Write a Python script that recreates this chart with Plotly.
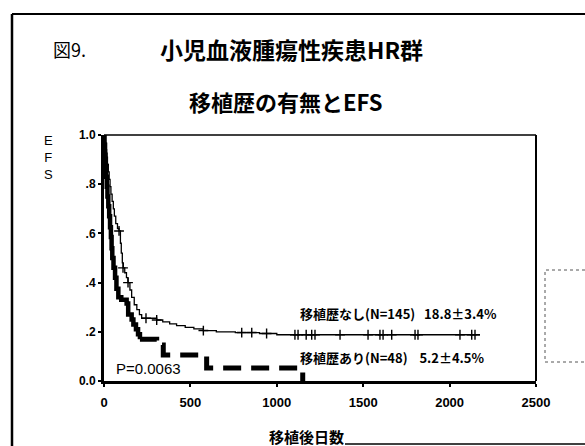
import plotly.graph_objects as go

# ---- data ----
# 移植歴なし (N=145): Kaplan-Meier step points
no_tx_days = [0, 5, 10, 15, 20, 25, 30, 35, 40, 47, 54, 60, 68, 78, 87, 95, 100, 106, 112, 120,
              130, 139, 150, 160, 175, 190, 205, 218, 305, 340, 380, 420, 470, 520, 575, 650,
              760, 900, 1000, 2176]
no_tx_efs = [1.0, 0.97, 0.94, 0.91, 0.88, 0.85, 0.82, 0.79, 0.76, 0.73, 0.70, 0.67, 0.64, 0.62,
             0.61, 0.56, 0.52, 0.48, 0.46, 0.44, 0.42, 0.40, 0.37, 0.34, 0.31, 0.29, 0.27, 0.255,
             0.248, 0.24, 0.232, 0.225, 0.218, 0.212, 0.205, 0.200, 0.197, 0.193, 0.188, 0.188]
no_tx_cens_days = [87, 110, 139, 243, 305, 575, 797, 855, 941, 1105, 1123, 1170, 1202, 1221,
                   1366, 1528, 1597, 1615, 1665, 1800, 1817, 2060, 2128, 2147]
no_tx_cens_efs = [0.61, 0.46, 0.40, 0.255, 0.248, 0.205, 0.197, 0.197, 0.193, 0.188, 0.188,
                  0.188, 0.188, 0.188, 0.188, 0.188, 0.188, 0.188, 0.188, 0.188, 0.188, 0.188,
                  0.188, 0.188]

# 移植歴あり (N=48)
tx_days = [0, 3, 6, 9, 12, 16, 20, 25, 30, 35, 40, 44, 48, 55, 64, 72, 83, 100, 131, 140, 160,
           170, 185, 197, 208, 305, 343, 594, 1150]
tx_efs = [1.0, 0.96, 0.92, 0.875, 0.83, 0.79, 0.75, 0.71, 0.67, 0.625, 0.585, 0.54, 0.50, 0.46,
          0.42, 0.375, 0.34, 0.33, 0.315, 0.27, 0.25, 0.23, 0.21, 0.19, 0.17, 0.146, 0.106,
          0.053, 0.0]
tx_solid_until = 24  # index of point where the drawn line switches to dashed

x_ticks = [0, 500, 1000, 1500, 2000, 2500]
x_ticklabels = ["0", "500", "1000", "1500", "2000", "2500"]
y_ticks = [0.0, 0.2, 0.4, 0.6, 0.8, 1.0]
y_ticklabels = ["0.0", ".2", ".4", ".6", ".8", "1.0"]
y_title_letters = ["E", "F", "S"]

JP = "Noto Sans CJK JP"
LAT = "Liberation Sans"

fig = go.Figure()
fig.add_trace(go.Scatter(x=no_tx_days, y=no_tx_efs, mode="lines", line_shape="hv",
                         line=dict(color="black", width=1.3), showlegend=False))
fig.add_trace(go.Scatter(x=no_tx_cens_days, y=no_tx_cens_efs, mode="markers",
                         marker=dict(symbol="cross-thin", size=7, color="black",
                                     line=dict(color="black", width=1.4)),
                         showlegend=False))
fig.add_trace(go.Scatter(x=tx_days[:tx_solid_until + 1], y=tx_efs[:tx_solid_until + 1],
                         mode="lines", line_shape="hv",
                         line=dict(color="black", width=4.5), showlegend=False))
fig.add_trace(go.Scatter(x=tx_days[tx_solid_until:], y=tx_efs[tx_solid_until:],
                         mode="lines", line_shape="hv",
                         line=dict(color="black", width=5, dash="18px,10px"), showlegend=False))

# plot area in pixels: x 104..536, y 135..381
L, R, T, B = 104, 536, 135, 381
W, H = R - L, B - T


def px(x):
    return (x - L) / W


def py(y):
    return (B - y) / H


shapes = [
    # top and right frame of plot area (thin)
    dict(type="line", xref="paper", yref="paper", x0=0, x1=1, y0=1, y1=1,
         line=dict(color="black", width=1.5)),
    dict(type="line", xref="paper", yref="paper", x0=1, x1=1, y0=0, y1=1,
         line=dict(color="black", width=2)),
    # outer page frame
    dict(type="line", xref="paper", yref="paper", x0=px(12), x1=px(12), y0=py(14), y1=py(446),
         line=dict(color="black", width=2.5)),
    dict(type="line", xref="paper", yref="paper", x0=px(12), x1=px(585), y0=py(14), y1=py(14),
         line=dict(color="black", width=2)),
    dict(type="line", xref="paper", yref="paper", x0=px(345), x1=px(585), y0=py(444), y1=py(444),
         line=dict(color="black", width=1.5)),
    # partial dashed box at right
    dict(type="rect", xref="paper", yref="paper", x0=px(545), x1=px(600), y0=py(362), y1=py(270),
         line=dict(color="#555555", width=1, dash="dot")),
]

annotations = [
    dict(text="図9.", x=px(51), y=py(49), xref="paper", yref="paper", xanchor="left",
         yanchor="middle", showarrow=False, font=dict(family=JP, size=18, color="black")),
    dict(text="<b>小児血液腫瘍性疾患HR群</b>", x=px(291), y=py(49), xref="paper", yref="paper",
         xanchor="center", yanchor="middle", showarrow=False,
         font=dict(family=JP, size=23, color="black")),
    dict(text="<b>移植歴の有無とEFS</b>", x=px(286), y=py(101), xref="paper", yref="paper",
         xanchor="center", yanchor="middle", showarrow=False,
         font=dict(family=JP, size=22, color="black")),
    dict(text="<b>移植後日数</b>", x=px(306), y=py(436), xref="paper", yref="paper",
         xanchor="center", yanchor="middle", showarrow=False,
         font=dict(family=JP, size=15, color="black")),
    dict(text="<b>移植歴なし(N=145)   18.8±3.4%</b>", x=px(298), y=py(313), xref="paper",
         yref="paper", xanchor="left", yanchor="middle", showarrow=False,
         font=dict(family=JP, size=13, color="black")),
    dict(text="<b>移植歴あり(N=48)    5.2±4.5%</b>", x=px(298), y=py(357), xref="paper",
         yref="paper", xanchor="left", yanchor="middle", showarrow=False,
         font=dict(family=JP, size=13, color="black")),
    dict(text="P=0.0063", x=px(114), y=py(368), xref="paper", yref="paper",
         xanchor="left", yanchor="middle", showarrow=False,
         font=dict(family=LAT, size=15, color="black")),
    dict(text="<br>".join(y_title_letters), x=px(48), y=py(157), xref="paper", yref="paper",
         xanchor="center", yanchor="middle", showarrow=False,
         font=dict(family=LAT, size=13, color="black")),
]

fig.update_layout(
    width=585, height=446,
    margin=dict(l=L, r=585 - R, t=T, b=446 - B, pad=0),
    paper_bgcolor="white", plot_bgcolor="white",
    shapes=shapes, annotations=annotations,
    xaxis=dict(range=[0, 2500], tickvals=x_ticks,
               ticktext=[f"<b>{t}</b>" for t in x_ticklabels],
               showgrid=False, zeroline=False, showline=True, linecolor="black", linewidth=3,
               ticks="outside", ticklen=3, tickwidth=2, tickcolor="black",
               ticklabelstandoff=4,
               tickfont=dict(family=LAT, size=13, color="black")),
    yaxis=dict(range=[0, 1.0], tickvals=y_ticks,
               ticktext=[f"<b>{t}</b>" for t in y_ticklabels],
               showgrid=False, zeroline=False, showline=True, linecolor="black", linewidth=3,
               ticks="outside", ticklen=3, tickwidth=2, tickcolor="black",
               tickfont=dict(family=LAT, size=12, color="black")),
)

fig.write_html("out.html")
